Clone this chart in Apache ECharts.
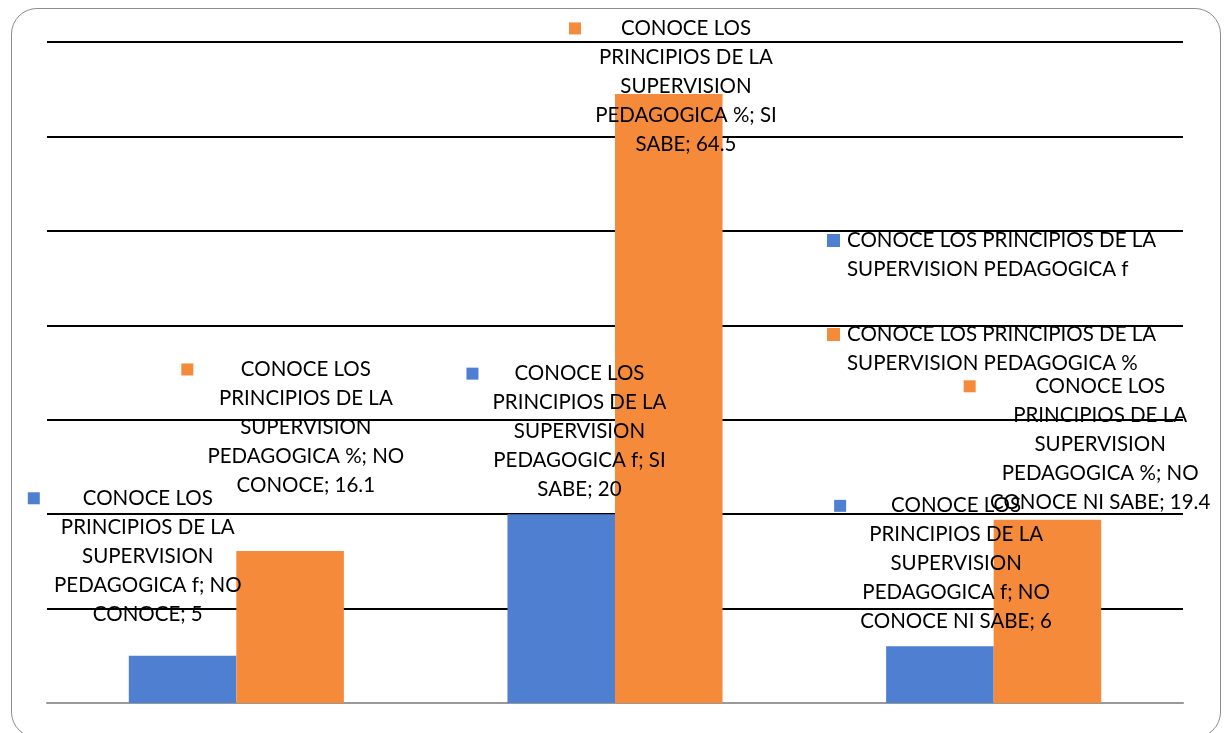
<!DOCTYPE html>
<html>
<head>
<meta charset="utf-8">
<script src="https://cdn.jsdelivr.net/npm/echarts@6/dist/echarts.min.js"></script>
<style>
    html, body { margin: 0; padding: 0; background: #fff; overflow: hidden; }
    #frame {
        position: absolute; left: 11px; top: 8px; width: 1208px; height: 728px;
        border: 1px solid #8c8c8c; border-radius: 26px;
    }
    #chart { position: absolute; left: 0; top: 0; width: 1226px; height: 733px; }
</style>
</head>
<body>
<div id="frame"></div>
<div id="chart"></div>
<script>
    // data
    const categories = ['NO CONOCE', 'SI SABE', 'NO CONOCE NI SABE'];
    const seriesNames = [
        'CONOCE LOS PRINCIPIOS DE LA SUPERVISION PEDAGOGICA f',
        'CONOCE LOS PRINCIPIOS DE LA SUPERVISION PEDAGOGICA %'
    ];
    const freqValues = [5, 20, 6];
    const pctValues = [16.1, 64.5, 19.4];
    const axisTicks = [0, 10, 20, 30, 40, 50, 60, 70];

    const colors = ['#4f7fd0', '#f68a3b'];
    const FONT = 'Lato';
    const FS = 20.5;
    const LH = 29;

    // where each data label sits, relative to its bar's top-left corner
    const labelShift = [
        [[-101, -172], [-41, -155], [-52, -155]],
        [[-55, -196], [-46, -80], [-30, -148]]
    ];

    const ctx = document.createElement('canvas').getContext('2d');
    ctx.font = FS + 'px ' + FONT;
    // the original wraps "PRINCIPIOS DE LA" at about 172px wide
    const k = ctx.measureText('PRINCIPIOS DE LA').width / 172;

    function wrap(text, maxW) {
        let words = text.split(' ');
        let lines = [];
        let cur = '';
        words.forEach(function (w) {
            let t = cur ? cur + ' ' + w : w;
            if (cur && ctx.measureText(t).width > maxW) {
                lines.push(cur);
                cur = w;
            } else {
                cur = t;
            }
        });
        lines.push(cur);
        return lines;
    }

    function makeLabel(si, i, value) {
        let text = seriesNames[si] + '; ' + categories[i] + '; ' + value;
        let lines = wrap(text, 230 * k);
        let w = 0;
        lines.forEach(function (l) { w = Math.max(w, ctx.measureText(l).width); });
        let str = lines.map(function (l, n) {
            return (n === 0 ? '{sq|}{g|}' : '{e|}') + '{t|' + l + '}';
        }).join('\n');
        return {
            show: true,
            position: labelShift[si][i],
            align: 'left',
            verticalAlign: 'top',
            formatter: str,
            rich: {
                sq: { width: 12, height: 12, backgroundColor: colors[si] },
                g: { width: 14 },
                e: { width: 26 },
                t: { width: Math.ceil(w), align: 'center', fontFamily: FONT, fontSize: FS, lineHeight: LH, color: '#000' }
            }
        };
    }

    function seriesData(si, values) {
        return values.map(function (v, i) {
            return { value: v, label: makeLabel(si, i, v) };
        });
    }

    let chart = echarts.init(document.getElementById('chart'));
    const option = {
        animation: false,
        color: colors,
        grid: { left: 47, right: 43, top: 42, bottom: 30 },
        legend: {
            data: seriesNames,
            orient: 'vertical',
            left: 822,
            top: 226,
            padding: 0,
            itemWidth: 0,
            itemHeight: 58,
            itemGap: 36,
            selectedMode: false,
            formatter: function (name) {
                let si = seriesNames.indexOf(name);
                let lines = wrap(name, 315 * k);
                return lines.map(function (l, n) {
                    return (n === 0 ? '{sq' + si + '|}{g|}' : '{e|}') + '{t|' + l + '}';
                }).join('\n');
            },
            textStyle: {
                rich: {
                    sq0: { width: 13, height: 13, backgroundColor: colors[0] },
                    sq1: { width: 13, height: 13, backgroundColor: colors[1] },
                    g: { width: 7 },
                    e: { width: 20 },
                    t: { fontFamily: FONT, fontSize: FS, lineHeight: LH, color: '#000' }
                }
            }
        },
        xAxis: {
            type: 'category',
            data: categories,
            axisTick: { show: false },
            axisLabel: { show: false },
            axisLine: { lineStyle: { color: '#999', width: 2 } }
        },
        yAxis: {
            type: 'value',
            min: axisTicks[0],
            max: axisTicks[axisTicks.length - 1],
            interval: axisTicks[1] - axisTicks[0],
            axisLabel: { show: false },
            axisLine: { show: false },
            axisTick: { show: false },
            splitLine: { lineStyle: { color: '#000', width: 2 } }
        },
        series: [
            {
                name: seriesNames[0],
                type: 'bar',
                barWidth: '28.4%',
                barGap: '0%',
                data: seriesData(0, freqValues)
            },
            {
                name: seriesNames[1],
                type: 'bar',
                barWidth: '28.4%',
                barGap: '0%',
                data: seriesData(1, pctValues)
            }
        ]
    };
    chart.setOption(option);
</script>
</body>
</html>
